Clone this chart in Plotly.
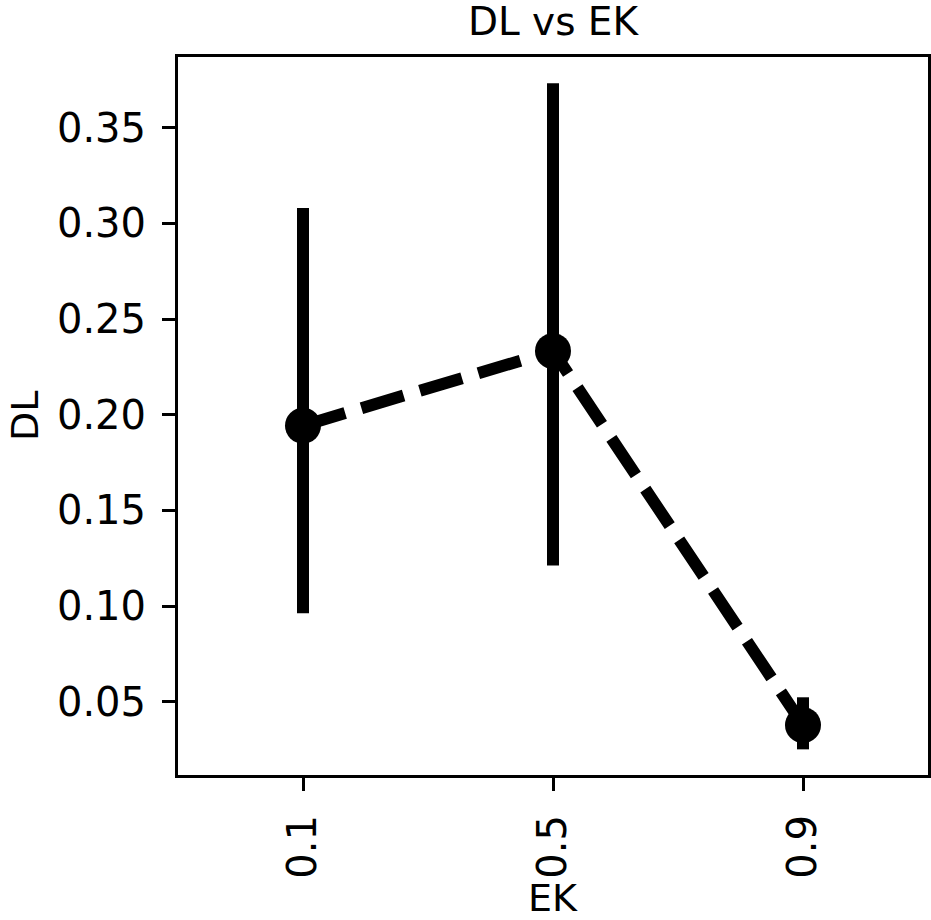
import plotly.graph_objects as go

categories = ["0.1", "0.5", "0.9"]
means = [0.1943, 0.2333, 0.0379]
ci_upper = [0.3080, 0.3732, 0.0524]
ci_lower = [0.0963, 0.1212, 0.0252]
y_ticks = [0.05, 0.10, 0.15, 0.20, 0.25, 0.30, 0.35]

err_plus = [u - m for u, m in zip(ci_upper, means)]
err_minus = [m - l for m, l in zip(means, ci_lower)]

FONT = "DejaVu Sans"
fig = go.Figure()
fig.add_trace(go.Scatter(
    x=categories, y=means, mode="lines+markers",
    line=dict(color="black", width=12, dash="44px,17px"),
    marker=dict(color="black", size=36),
    error_y=dict(type="data", symmetric=False, array=err_plus, arrayminus=err_minus,
                 color="black", thickness=12, width=0),
    showlegend=False,
))

axis_common = dict(showline=True, linewidth=3, linecolor="black", mirror=True,
                   ticks="outside", ticklen=13, tickwidth=3, tickcolor="black",
                   showgrid=False, zeroline=False,
                   tickfont=dict(family=FONT, size=40, color="black"))

fig.update_xaxes(type="category", range=[-0.5, 2.5], tickangle=-90,
                 ticklabelstandoff=8, **axis_common)
fig.update_yaxes(range=[0.0118, 0.3869], tickvals=y_ticks,
                 ticktext=[f"{v:.2f}" for v in y_ticks], ticklabelstandoff=8,
                 **axis_common)

fig.update_layout(
    width=931, height=920, autosize=False,
    margin=dict(l=178, r=0, t=57, b=145, pad=0),
    paper_bgcolor="white", plot_bgcolor="white",
    title=dict(text="DL vs EK", x=0.5, xref="paper", xanchor="center",
               y=1 - 21 / 920, yref="container", yanchor="middle",
               font=dict(family=FONT, size=39, color="black")),
    annotations=[
        dict(text="EK", xref="paper", yref="paper", x=0.5, y=(775 - 898) / 718,
             xanchor="center", yanchor="middle", showarrow=False,
             font=dict(family=FONT, size=38, color="black")),
        dict(text="DL", xref="paper", yref="paper", x=(25 - 178) / 750, y=0.5,
             xanchor="center", yanchor="middle", showarrow=False, textangle=-90,
             font=dict(family=FONT, size=38, color="black")),
    ],
)

fig.write_html("out.html")
